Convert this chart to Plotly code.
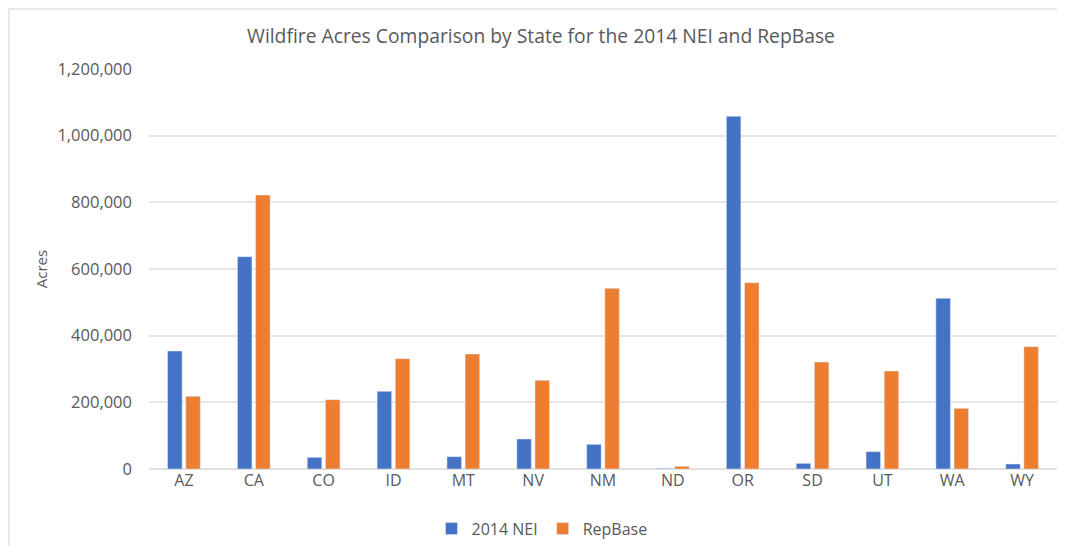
import plotly.graph_objects as go

states = ["AZ", "CA", "CO", "ID", "MT", "NV", "NM", "ND", "OR", "SD", "UT", "WA", "WY"]
nei_2014 = [354000, 637000, 35000, 233000, 37000, 90000, 74000, 2000, 1058000, 17000, 52000, 512000, 15000]
repbase = [218000, 822000, 208000, 331000, 345000, 266000, 542000, 8000, 559000, 321000, 294000, 182000, 367000]
y_ticks = [0, 200000, 400000, 600000, 800000, 1000000, 1200000]

FONT = "Open Sans"
GRAY = "#595959"

# page body has 8px margin, so figure origin sits at page (8, 8)
OFF = 8
W, H = 1065 - 2 * OFF, 554 - 2 * OFF
L, T = 149 - OFF, 69 - OFF
B = H - (471 - OFF)
R = 0
pw, ph = W - L - R, H - T - B


def px_x(p):
    return (p - OFF - L) / pw


def px_y(p):
    return (H - B - (p - OFF)) / ph


fig = go.Figure()
fig.add_trace(go.Bar(x=states, y=nei_2014, name="2014 NEI", marker_color="#4472C4"))
fig.add_trace(go.Bar(x=states, y=repbase, name="RepBase", marker_color="#ED7D31"))

fig.update_layout(
    width=W, height=H,
    margin=dict(l=L, r=R, t=T, b=B),
    paper_bgcolor="white", plot_bgcolor="white",
    barmode="group", bargap=0.48, bargroupgap=0.2,
    font=dict(family=FONT, color=GRAY, size=16),
    title=dict(text="Wildfire Acres Comparison by State for the 2014 NEI and RepBase",
               xref="container", x=(541 - OFF) / W, xanchor="center",
               yref="container", y=1 - (36 - OFF) / H, yanchor="middle",
               font=dict(family=FONT, size=19.3, color=GRAY)),
    xaxis=dict(showgrid=False, showline=False, ticks="", tickfont=dict(size=16, color=GRAY)),
    yaxis=dict(range=[0, 1200000], tickvals=y_ticks, tickformat=",d",
               showgrid=True, gridcolor="#e6e6e6", gridwidth=1.5,
               zeroline=True, zerolinecolor="#e0e0e0", zerolinewidth=1.5,
               ticks="", ticklabelstandoff=16,
               tickfont=dict(size=16.5, color=GRAY),
               title=dict(text="Acres", font=dict(size=15, color=GRAY), standoff=6)),
    legend=dict(orientation="h", x=px_x(542), xanchor="center", y=px_y(531), yanchor="middle",
                font=dict(size=16, color=GRAY), itemwidth=30, traceorder="normal"),
    showlegend=True,
)

# chart border (left and top edges visible in reference)
fig.add_shape(type="line", xref="paper", yref="paper",
              x0=px_x(8.8), x1=px_x(8.8), y0=px_y(560), y1=px_y(8.8),
              line=dict(color="#e3e3e3", width=1.5), layer="below")
fig.add_shape(type="line", xref="paper", yref="paper",
              x0=px_x(8.8), x1=px_x(1070), y0=px_y(8.8), y1=px_y(8.8),
              line=dict(color="#e3e3e3", width=1.5), layer="below")

fig.write_html("out.html")
